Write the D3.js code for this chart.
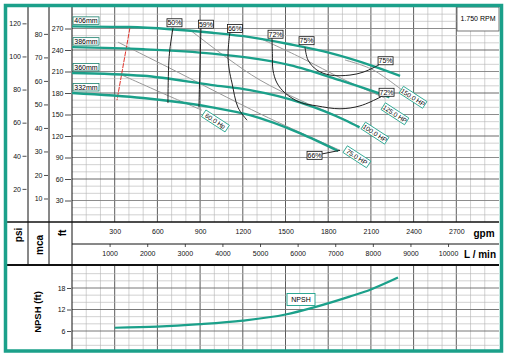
<!DOCTYPE html>
<html><head><meta charset="utf-8">
<script src="https://cdn.jsdelivr.net/npm/d3@7/dist/d3.min.js"></script>
<style>
body{margin:0;background:#fff}
text{font-family:"Liberation Sans Narrow","Arial Narrow","Liberation Sans",Arial,sans-serif}
.bold{font-family:"Liberation Sans",Arial,sans-serif;font-weight:bold}
</style></head><body>
<svg id="chart" width="508" height="360"></svg>
<script>
// tick labels
var gpmTicks = [300, 600, 900, 1200, 1500, 1800, 2100, 2400, 2700];
var lpmTicks = [1000, 2000, 3000, 4000, 5000, 6000, 7000, 8000, 9000, 10000];
var ftTicks = [30, 60, 90, 120, 150, 180, 210, 240, 270];
var psiTicks = [20, 40, 60, 80, 100, 120];
var mcaTicks = [10, 20, 30, 40, 50, 60, 70, 80];
var npshTicks = [6, 12, 18];

// impeller head curves [gpm, ft]
var impellers = ["406mm", "386mm", "360mm", "332mm"];
var head406 = [[0,273],[400,272],[690,269],[985,264],[1250,258],[1530,248],[1810,236],[2110,218],[2305,204]];
var head386 = [[0,244],[500,241],[985,235],[1250,229],[1530,219],[1880,198],[2150,180],[2230,174]];
var head360 = [[0,208],[500,204],[985,191],[1250,184],[1600,167],[1920,142],[2020,132]];
var head332 = [[0,180],[500,173],[985,160],[1250,149],[1600,124],[1870,99]];

// efficiency curves [gpm, ft]
var eff50 = [[710,271],[690,245],[681,226],[676,195],[674,166]];
var eff59 = [[906,271],[902,240],[899,212],[895,185],[892,160]];
var eff66 = [[1110,265],[1100,248],[1096,230],[1105,212],[1124,194],[1166,160],[1230,142]];
var eff72 = [[1405,257],[1408,235],[1412,212],[1440,194],[1497,180],[1602,167],[1721,162],[1883,158],[2023,162],[2164,174],[2200,178]];
var eff75 = [[1637,244],[1658,226],[1721,212],[1813,205],[1953,205],[2045,209],[2115,215],[2180,222]];
var eff66b = [[1757,95],[1883,100]];
var effLabels = [["50%",720,278],["59%",941,276],["66%",1145,270],["72%",1430,262],["75%",1648,253],
                 ["75%",2203,225],["72%",2210,181],["66%",1704,93]];

// power lines [gpm, ft]
var hp60 = [[351,205],[667,177],[913,156]];
var hp75 = [[323,251],[674,216],[1342,149],[1883,100]];
var hp100 = [[829,268],[1089,229],[1321,198],[1602,170],[1813,152],[2023,133]];
var hp125 = [[1335,255],[1602,230],[1918,198],[2199,173]];
var hp150 = [[1918,226],[2108,213],[2319,184]];
var hpLabels = [["60.0 Hp",1008,141],["75.0 HP",2002,91],["100.0 HP",2129,124],["125.0 HP",2269,151],["150.0 HP",2396,174]];

// minimum flow line
var minFlow = [[407,271],[316,170]];

// NPSH required [gpm, ft]
var npshGpm = [300, 600, 900, 1200, 1500, 1700, 1950, 2100, 2290];
var npshFt = [6.9, 7.2, 7.9, 8.9, 10.6, 12.6, 15.6, 17.6, 20.9];

var teal = "#1ba08a";
var narrow = "'Liberation Sans Narrow','Arial Narrow','Liberation Sans',Arial,sans-serif";
var svg = d3.select("#chart");

var x = d3.scaleLinear().domain([0, 3000]).range([72, 499]);
var xl = d3.scaleLinear().domain([0, 3000 * 3.785]).range([72, 499]);
var y = d3.scaleLinear().domain([0, 300]).range([222, 7]);
var yPsi = d3.scaleLinear().domain([0, 300 / 2.31]).range([222, 7]);
var yMca = d3.scaleLinear().domain([0, 300 / 3.281]).range([222, 7]);
var yN = d3.scaleLinear().domain([0, 24]).range([352.5, 266.5]);

svg.append("rect").attr("width", 508).attr("height", 360).attr("fill", "#fff");

svg.append("defs").append("clipPath").attr("id", "clip")
    .append("rect").attr("x", 72).attr("y", 7).attr("width", 427).attr("height", 215);

// grid
var grid = svg.append("g");
var vlines = d3.range(100, 3000, 100);
function vstyle(sel) {
  sel.attr("x1", d => x(d)).attr("x2", d => x(d))
     .attr("stroke", d => d % 300 === 0 ? "#4a4a4a" : "#b4b4b4")
     .attr("stroke-width", d => d % 300 === 0 ? 0.9 : 0.6);
}
grid.selectAll("line.vm").data(vlines).join("line").attr("class", "vm")
    .attr("y1", 7).attr("y2", 222).call(vstyle);
grid.selectAll("line.vn").data(vlines).join("line").attr("class", "vn")
    .attr("y1", 265).attr("y2", 350).call(vstyle);
grid.selectAll("line.hm").data(d3.range(10, 300, 10)).join("line").attr("class", "hm")
    .attr("x1", 72).attr("x2", 499).attr("y1", d => y(d)).attr("y2", d => y(d))
    .attr("stroke", d => d % 60 === 0 ? "#5a5a5a" : d % 30 === 0 ? "#808080" : "#b4b4b4")
    .attr("stroke-width", d => d % 30 === 0 ? 0.9 : 0.6);
grid.selectAll("line.hn").data(d3.range(2, 24, 2)).join("line").attr("class", "hn")
    .attr("x1", 72).attr("x2", 499).attr("y1", d => yN(d)).attr("y2", d => yN(d))
    .attr("stroke", d => d % 6 === 0 ? "#6a6a6a" : "#b4b4b4")
    .attr("stroke-width", d => d % 6 === 0 ? 0.9 : 0.6);

// axis rows
svg.append("rect").attr("x", 7).attr("y", 222).attr("width", 492).attr("height", 43).attr("fill", "#fff");

function frameLine(x1, y1, x2, y2, w) {
  svg.append("line").attr("x1", x1).attr("y1", y1).attr("x2", x2).attr("y2", y2)
     .attr("stroke", "#111").attr("stroke-width", w);
}
frameLine(28, 7, 28, 265, 1);
frameLine(49, 7, 49, 265, 1);
frameLine(72, 7, 72, 350, 1);
frameLine(72, 244, 499, 244, 1);
frameLine(7, 222, 499, 222, 1.6);
frameLine(7, 265, 499, 265, 2);

// left axes
function leftAxis(scale, ticks, xpos, size) {
  var g = svg.append("g").attr("transform", "translate(" + xpos + ",0)")
      .call(d3.axisLeft(scale).tickValues(ticks).tickSize(size).tickPadding(1.5).tickFormat(d3.format("d")));
  g.select(".domain").remove();
  g.selectAll("line").attr("stroke", "#222").attr("stroke-width", 0.8);
  g.selectAll("text").attr("font-size", 7).attr("fill", "#111").style("font-family", narrow);
  return g;
}
leftAxis(yPsi, psiTicks, 26.5, 4);
leftAxis(yMca, mcaTicks, 48, 4);
leftAxis(y, ftTicks, 71, 6);
leftAxis(yN, npshTicks, 71, 4);

// bottom axes
var gx = svg.append("g").attr("transform", "translate(0,229.5)")
    .call(d3.axisBottom(x).tickValues(gpmTicks).tickSize(0).tickPadding(0).tickFormat(d3.format("d")));
gx.select(".domain").remove();
gx.selectAll("text").attr("font-size", 7).attr("fill", "#111").style("font-family", narrow);

var gl = svg.append("g").attr("transform", "translate(0,244)")
    .call(d3.axisBottom(xl).tickValues(lpmTicks).tickSize(3).tickPadding(4).tickFormat(d3.format("d")));
gl.select(".domain").remove();
gl.selectAll("line").attr("stroke", "#222").attr("stroke-width", 0.8);
gl.selectAll("text").attr("font-size", 7).attr("fill", "#111").style("font-family", narrow);

svg.append("text").attr("class", "bold").attr("x", 484).attr("y", 236.5)
   .attr("text-anchor", "middle").attr("font-size", 10).text("gpm");
svg.append("text").attr("class", "bold").attr("x", 480).attr("y", 257.5)
   .attr("text-anchor", "middle").attr("font-size", 10).text("L / min");

function vlabel(txt, cx, cy, size) {
  svg.append("text").attr("class", "bold").attr("font-size", size)
     .attr("transform", "translate(" + cx + "," + cy + ") rotate(-90)")
     .attr("text-anchor", "middle").attr("dy", "0.35em").text(txt);
}
vlabel("psi", 18, 235, 10);
vlabel("mca", 39, 245, 10);
vlabel("ft", 62, 233, 10);
vlabel("NPSH (ft)", 38, 312, 9.5);

// curves
var plot = svg.append("g").attr("clip-path", "url(#clip)");
var smooth = d3.line().x(d => x(d[0])).y(d => y(d[1])).curve(d3.curveMonotoneX);
var loose = d3.line().x(d => x(d[0])).y(d => y(d[1])).curve(d3.curveCatmullRom);

[hp60, hp75, hp100, hp125, hp150].forEach(function (c) {
  plot.append("path").attr("d", loose(c)).attr("fill", "none")
      .attr("stroke", "#999").attr("stroke-width", 1);
});

plot.append("path").attr("d", loose(minFlow)).attr("fill", "none")
    .attr("stroke", "#e0342c").attr("stroke-width", 1).attr("stroke-dasharray", "5,1");

var heads = [head406, head386, head360, head332];
heads.forEach(function (c) {
  plot.append("path").attr("d", smooth(c)).attr("fill", "none")
      .attr("stroke", teal).attr("stroke-width", 2.4);
});

[eff50, eff59, eff66, eff72, eff75, eff66b].forEach(function (c) {
  plot.append("path").attr("d", loose(c)).attr("fill", "none")
      .attr("stroke", "#222").attr("stroke-width", 1);
});

// impeller labels
heads.forEach(function (c, i) {
  var g = svg.append("g").attr("transform", "translate(73," + (y(c[0][1]) - 9.5) + ")");
  g.append("rect").attr("width", 26).attr("height", 7.5).attr("fill", "#fff")
   .attr("stroke", "#1a7f6c").attr("stroke-width", 0.8);
  g.append("text").attr("x", 13).attr("y", 6.2).attr("text-anchor", "middle")
   .attr("font-size", 7).text(impellers[i]);
});

// efficiency labels
effLabels.forEach(function (d) {
  var g = svg.append("g").attr("transform", "translate(" + x(d[1]) + "," + y(d[2]) + ")");
  g.append("rect").attr("x", -7.5).attr("y", -4).attr("width", 15).attr("height", 8)
   .attr("fill", "#fff").attr("stroke", "#111").attr("stroke-width", 0.8);
  g.append("text").attr("y", 2.6).attr("text-anchor", "middle").attr("font-size", 7).text(d[0]);
});

// power labels
hpLabels.forEach(function (d) {
  var g = svg.append("g").attr("transform", "translate(" + x(d[1]) + "," + y(d[2]) + ") rotate(33)");
  g.append("rect").attr("x", -14).attr("y", -4).attr("width", 28).attr("height", 8)
   .attr("fill", "#fff").attr("stroke", teal).attr("stroke-width", 0.8);
  g.append("text").attr("y", 2.5).attr("text-anchor", "middle").attr("font-size", 6.5).text(d[0]);
});

// rpm box
svg.append("rect").attr("x", 457).attr("y", 7).attr("width", 42).attr("height", 24)
   .attr("fill", "#fff").attr("stroke", "#555").attr("stroke-width", 0.8);
svg.append("text").attr("x", 478).attr("y", 20.5).attr("text-anchor", "middle")
   .attr("font-size", 7).text("1.750 RPM");

// NPSH curve
var npsh = npshGpm.map((g, i) => [g, npshFt[i]]);
svg.append("path")
   .attr("d", d3.line().x(d => x(d[0])).y(d => yN(d[1])).curve(d3.curveMonotoneX)(npsh))
   .attr("fill", "none").attr("stroke", teal).attr("stroke-width", 2.2);
var ng = svg.append("g").attr("transform", "translate(301,299.5)");
ng.append("rect").attr("x", -14).attr("y", -6).attr("width", 28).attr("height", 12)
  .attr("fill", "#fff").attr("stroke", teal).attr("stroke-width", 0.9);
ng.append("text").attr("y", 2.5).attr("text-anchor", "middle").attr("font-size", 7).text("NPSH");

// outer frame
svg.append("rect").attr("x", 5.5).attr("y", 5.5).attr("width", 496).attr("height", 345.5)
   .attr("fill", "none").attr("stroke", teal).attr("stroke-width", 3.5);
</script></body></html>
